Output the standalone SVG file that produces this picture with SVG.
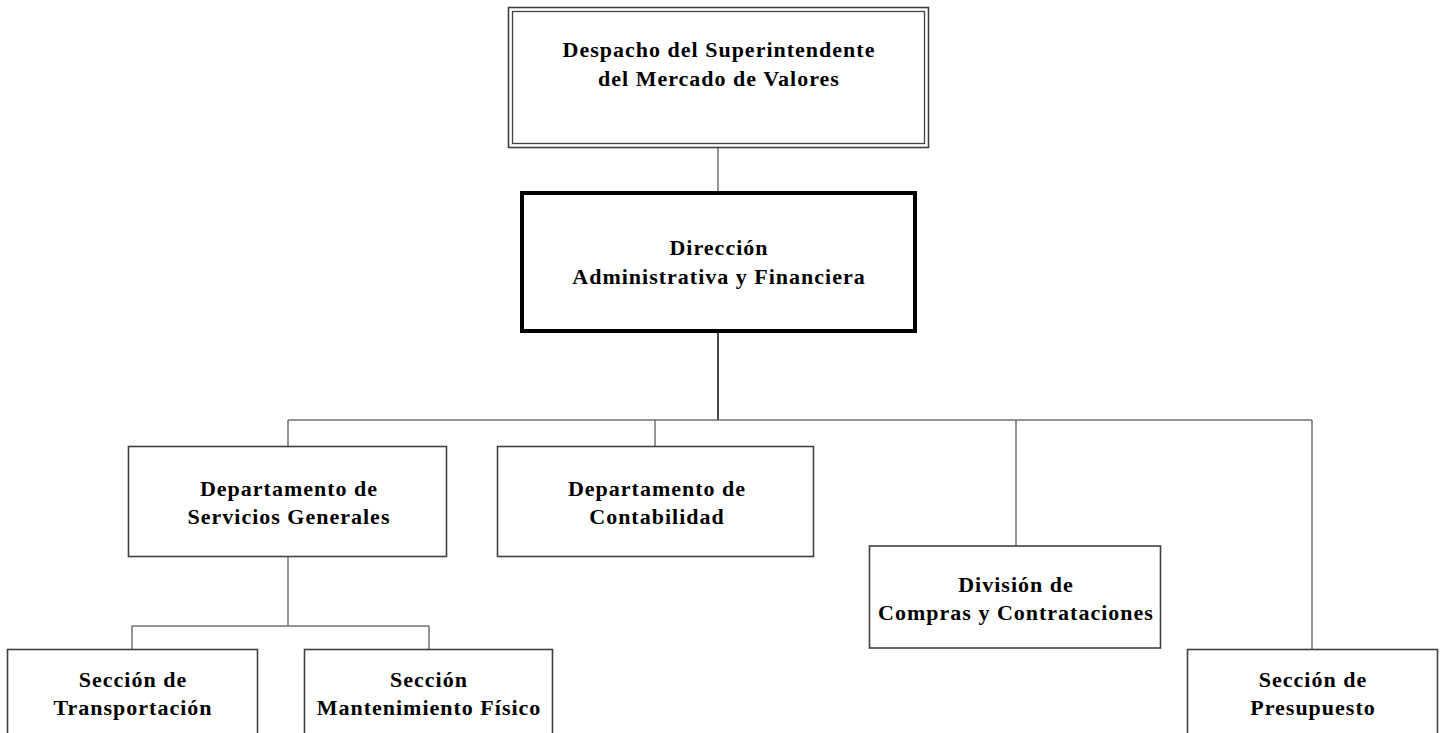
<svg xmlns="http://www.w3.org/2000/svg" width="1440" height="733" viewBox="0 0 1440 733">
<style>
.box{fill:#fff;stroke:#404040;stroke-width:1.6}
.thin{fill:none;stroke:#404040;stroke-width:1.3}
.thick{fill:#fff;stroke:#000;stroke-width:4}
.conn{fill:none;stroke:#707070;stroke-width:1.5}
.connb{fill:none;stroke:#1a1a1a;stroke-width:1.6}
text{font-family:"Liberation Serif","Times New Roman",serif;font-weight:bold;font-size:22px;letter-spacing:1px;text-anchor:middle;fill:#000}
</style>
<rect width="1440" height="733" fill="#fff"/>
<g id="connectors">
<line class="conn" x1="718" y1="148" x2="718" y2="191"/>
<line class="connb" x1="718" y1="333" x2="718" y2="420"/>
<line class="conn" x1="288" y1="420" x2="1312" y2="420"/>
<line class="conn" x1="288" y1="420" x2="288" y2="446"/>
<line class="conn" x1="655" y1="420" x2="655" y2="446"/>
<line class="conn" x1="1016" y1="420" x2="1016" y2="546"/>
<line class="conn" x1="1312" y1="420" x2="1312" y2="649"/>
<line class="conn" x1="288" y1="557" x2="288" y2="626"/>
<line class="conn" x1="132" y1="626" x2="429" y2="626"/>
<line class="conn" x1="132" y1="626" x2="132" y2="649"/>
<line class="conn" x1="429" y1="626" x2="429" y2="649"/>
</g>
<g id="despacho">
<rect class="box" x="508.5" y="7.5" width="420" height="140"/>
<rect class="thin" x="512.5" y="11.5" width="412" height="132"/>
<text x="719" y="57">Despacho del Superintendente</text>
<text x="719" y="86">del Mercado de Valores</text>
</g>
<g id="direccion">
<rect class="thick" x="522" y="193" width="393" height="138"/>
<text x="719" y="255">Dirección</text>
<text x="719" y="284">Administrativa y Financiera</text>
</g>
<g id="servicios">
<rect class="box" x="128.5" y="446.5" width="318" height="110"/>
<text x="289" y="496">Departamento de</text>
<text x="289" y="524">Servicios Generales</text>
</g>
<g id="contabilidad">
<rect class="box" x="497.5" y="446.5" width="316" height="110"/>
<text x="657" y="496">Departamento de</text>
<text x="657" y="524">Contabilidad</text>
</g>
<g id="compras">
<rect class="box" x="869.5" y="546" width="291" height="102"/>
<text x="1016" y="592">División de</text>
<text x="1016" y="620">Compras y Contrataciones</text>
</g>
<g id="transportacion">
<rect class="box" x="7.5" y="649.5" width="250" height="100"/>
<text x="133" y="687">Sección de</text>
<text x="133" y="715">Transportación</text>
</g>
<g id="mantenimiento">
<rect class="box" x="304.5" y="649.5" width="248" height="100"/>
<text x="429" y="687">Sección</text>
<text x="429" y="715">Mantenimiento Físico</text>
</g>
<g id="presupuesto">
<rect class="box" x="1187.5" y="649.5" width="250" height="100"/>
<text x="1313" y="687">Sección de</text>
<text x="1313" y="715">Presupuesto</text>
</g>
</svg>
